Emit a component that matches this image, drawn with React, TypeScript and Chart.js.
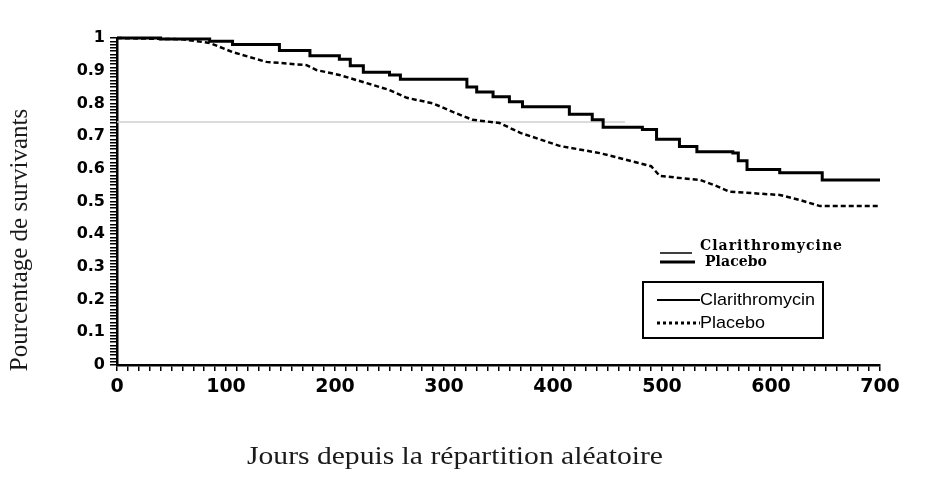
import React, { useEffect, useRef } from 'react';
import { Chart, registerables } from 'chart.js';

Chart.register(...registerables);

// ---- Data ----
const clariDays = [0, 40, 85, 106, 149, 177, 204, 214, 226, 250, 260, 321, 330, 345, 360, 372, 415, 436, 446, 482, 495, 516, 532, 565, 570, 578, 608, 647, 700];
const clariSurv = [1.0, 0.997, 0.99, 0.98, 0.962, 0.946, 0.935, 0.915, 0.895, 0.887, 0.874, 0.85, 0.835, 0.82, 0.805, 0.79, 0.767, 0.75, 0.727, 0.72, 0.69, 0.668, 0.652, 0.648, 0.625, 0.598, 0.588, 0.566, 0.566];

const placeboDays = [0, 60, 85, 106, 137, 174, 183, 204, 229, 250, 266, 290, 308, 326, 351, 370, 406, 443, 490, 498, 535, 548, 562, 608, 626, 645, 700];
const placeboSurv = [1.0, 0.996, 0.985, 0.957, 0.927, 0.917, 0.902, 0.887, 0.862, 0.841, 0.817, 0.8, 0.774, 0.75, 0.74, 0.71, 0.67, 0.648, 0.608, 0.578, 0.566, 0.55, 0.53, 0.52, 0.505, 0.486, 0.486];

const refLineDays = [0, 466];
const refLineValue = [0.743, 0.743];

const xTickLabels = ['0', '100', '200', '300', '400', '500', '600', '700'];
const yTickLabels = ['0', '0.1', '0.2', '0.3', '0.4', '0.5', '0.6', '0.7', '0.8', '0.9', '1'];

const xTitle = 'Jours depuis la répartition aléatoire';
const yTitle = 'Pourcentage de survivants';
const legendTopLabels = ['Clarithromycine', 'Placebo'];
const legendBoxLabels = ['Clarithromycin', 'Placebo'];

const toPoints = (xs: number[], ys: number[]) => xs.map((x, i) => ({ x, y: ys[i] }));

function fitText(ctx: CanvasRenderingContext2D, text: string, x: number, y: number, targetW: number, align: 'left' | 'center') {
  const w = ctx.measureText(text).width;
  const s = targetW / w;
  ctx.save();
  ctx.translate(x, y);
  ctx.scale(s, 1);
  ctx.textAlign = align;
  ctx.fillText(text, 0, 0);
  ctx.restore();
}

function spacedText(ctx: any, text: string, x: number, y: number, targetW: number) {
  if ('letterSpacing' in ctx) {
    ctx.letterSpacing = '0px';
    const w = ctx.measureText(text).width;
    const sp = (targetW - w) / text.length;
    ctx.letterSpacing = sp.toFixed(2) + 'px';
    ctx.textAlign = 'left';
    ctx.fillText(text, x, y);
    ctx.letterSpacing = '0px';
  } else {
    fitText(ctx, text, x, y, targetW, 'left');
  }
}

const overlayPlugin = {
  id: 'overlay',
  afterDraw(chart: any) {
    const ctx: CanvasRenderingContext2D = chart.ctx;
    ctx.save();
    ctx.fillStyle = '#1a1a1a';
    ctx.strokeStyle = '#000';

    // Y title
    ctx.save();
    ctx.font = '25px "Liberation Serif", "Times New Roman", serif';
    ctx.translate(27, 240);
    ctx.rotate(-Math.PI / 2);
    ctx.textAlign = 'center';
    ctx.textBaseline = 'alphabetic';
    ctx.fillText(yTitle, 0, 0);
    ctx.restore();

    // X title
    ctx.font = '25px "Liberation Serif", "Times New Roman", serif';
    ctx.textBaseline = 'alphabetic';
    fitText(ctx, xTitle, 455, 464, 416, 'center');

    // Upper legend
    ctx.fillStyle = '#000';
    ctx.lineWidth = 1.5;
    ctx.beginPath();
    ctx.moveTo(660, 253);
    ctx.lineTo(692, 253);
    ctx.stroke();
    ctx.lineWidth = 3;
    ctx.beginPath();
    ctx.moveTo(660, 262);
    ctx.lineTo(695, 262);
    ctx.stroke();
    ctx.font = 'bold 14px "DejaVu Serif", serif';
    ctx.textBaseline = 'middle';
    spacedText(ctx, legendTopLabels[0], 700, 246, 143);
    spacedText(ctx, legendTopLabels[1], 705, 262, 62);

    // Boxed legend
    ctx.lineWidth = 2;
    ctx.strokeRect(643, 282, 180, 56);
    ctx.lineWidth = 2;
    ctx.beginPath();
    ctx.moveTo(657, 300);
    ctx.lineTo(700, 300);
    ctx.stroke();
    ctx.lineWidth = 3;
    ctx.setLineDash([3, 3]);
    ctx.beginPath();
    ctx.moveTo(657, 323);
    ctx.lineTo(700, 323);
    ctx.stroke();
    ctx.setLineDash([]);
    ctx.font = '17px "Liberation Sans", Arial, sans-serif';
    ctx.textBaseline = 'middle';
    fitText(ctx, legendBoxLabels[0], 700, 300, 115, 'left');
    fitText(ctx, legendBoxLabels[1], 700, 323, 65, 'left');

    ctx.restore();
  },
};

export default function App() {
  const canvasRef = useRef<HTMLCanvasElement | null>(null);

  useEffect(() => {
    document.body.style.margin = '0';
    const canvas = canvasRef.current;
    if (!canvas) return;
    const yTickFont = { family: '"DejaVu Sans", sans-serif', weight: 'bold' as const, size: 16 };
    const xTickFont = { family: '"DejaVu Sans", sans-serif', weight: 'bold' as const, size: 19 };
    const chart = new Chart(canvas, {
      type: 'line',
      data: {
        datasets: [
          {
            label: 'Clarithromycin',
            data: toPoints(clariDays, clariSurv),
            borderColor: '#000',
            borderWidth: 3,
            pointRadius: 0,
            stepped: true,
            fill: false,
            clip: false as any,
          },
          {
            label: 'Placebo',
            data: toPoints(placeboDays, placeboSurv),
            borderColor: '#000',
            borderWidth: 2.5,
            borderDash: [5, 3],
            pointRadius: 0,
            fill: false,
            clip: false as any,
          },
          {
            label: 'ref',
            data: toPoints(refLineDays, refLineValue),
            borderColor: '#cfcfcf',
            borderWidth: 1.5,
            pointRadius: 0,
            fill: false,
          },
        ],
      },
      options: {
        responsive: false,
        animation: false,
        layout: { padding: { top: 38, right: 49, left: 0, bottom: 0 } },
        plugins: {
          legend: { display: false },
          tooltip: { enabled: false },
        },
        scales: {
          x: {
            type: 'linear',
            min: 0,
            max: 700,
            afterFit: (s: any) => {
              s.height = 130;
            },
            ticks: {
              stepSize: 10,
              autoSkip: false,
              maxRotation: 0,
              color: '#000',
              font: xTickFont,
              padding: 5,
              callback: (v: any) => {
                const n = Math.round(Number(v));
                return n % 100 === 0 ? xTickLabels[n / 100] : '';
              },
            },
            grid: { drawOnChartArea: false, drawTicks: true, tickLength: 6, color: '#000', lineWidth: 1.5 },
            border: { display: true, color: '#000', width: 2.5 },
          },
          y: {
            type: 'linear',
            min: 0,
            max: 1,
            afterFit: (s: any) => {
              s.width = 117;
            },
            ticks: {
              stepSize: 0.01,
              autoSkip: false,
              color: '#000',
              font: yTickFont,
              padding: 5,
              callback: (v: any) => {
                const n = Math.round(Number(v) * 100);
                return n % 10 === 0 ? yTickLabels[n / 10] : '';
              },
            },
            grid: { drawOnChartArea: false, drawTicks: true, tickLength: 7, color: '#000', lineWidth: 1.5 },
            border: { display: true, color: '#000', width: 2.5 },
          },
        },
      },
      plugins: [overlayPlugin],
    });
    return () => chart.destroy();
  }, []);

  return (
    <div style={{ position: 'absolute', left: 0, top: 0, width: 929, height: 495, background: '#fff' }}>
      <canvas ref={canvasRef} width={929} height={495} />
    </div>
  );
}
